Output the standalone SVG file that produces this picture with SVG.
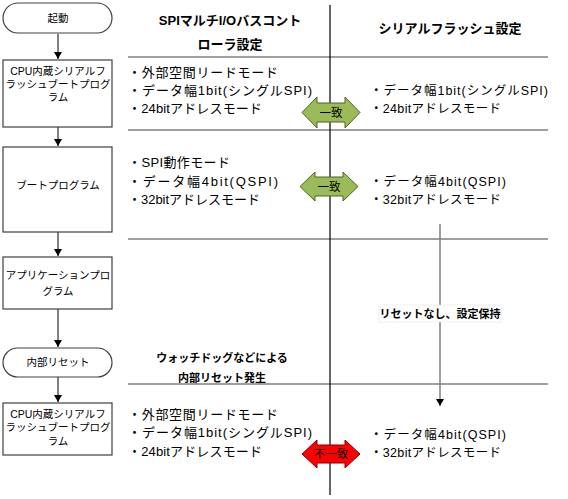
<svg xmlns="http://www.w3.org/2000/svg" width="568" height="499" viewBox="0 0 568 499">
<defs>
<style>
.box{fill:#fff;stroke:#404040;stroke-width:1.2}
.bt{font-family:"Liberation Sans","Noto Sans CJK JP",sans-serif;font-size:10.5px;fill:#000;text-anchor:middle}
.it{font-family:"Liberation Sans","Noto Sans CJK JP",sans-serif;font-size:13px;fill:#000}
.ir{font-family:"Liberation Sans","Noto Sans CJK JP",sans-serif;font-size:12.5px;fill:#000}
.hd{font-family:"Liberation Sans","Noto Sans CJK JP",sans-serif;font-size:13px;font-weight:bold;fill:#000;text-anchor:middle}
.lb{font-family:"Liberation Sans","Noto Sans CJK JP",sans-serif;font-size:11px;font-weight:bold;fill:#000;text-anchor:middle}
.sep{stroke:#808080;stroke-width:1.5}
.flow{stroke:#000;stroke-width:1;fill:none}
.green{fill:#9BBB59;stroke:#4F6228;stroke-width:1}
.red{fill:#FF0000;stroke:#7F0000;stroke-width:1}
.at{font-family:"Liberation Sans","Noto Sans CJK JP",sans-serif;font-size:11.5px;fill:#000;text-anchor:middle}
</style>
<marker id="ah" markerWidth="8" markerHeight="8" refX="7" refY="4" orient="auto" markerUnits="userSpaceOnUse">
<path d="M0,0 L7,4 L0,8 z" fill="#000"/>
</marker>
</defs>
<rect width="568" height="499" fill="#fff"/>

<g id="separators">
<line class="sep" x1="128" y1="57" x2="548" y2="57"/>
<line class="sep" x1="128" y1="130" x2="548" y2="130"/>
<line class="sep" x1="128" y1="239" x2="548" y2="239"/>
<line class="sep" x1="128" y1="384" x2="548" y2="384" stroke-width="2"/>
<line x1="330" y1="5" x2="330" y2="495" stroke="#000" stroke-width="1.2"/>
</g>

<g id="connectors">
<line class="flow" x1="58" y1="34" x2="58" y2="59" marker-end="url(#ah)"/>
<line class="flow" x1="58" y1="127" x2="58" y2="146" marker-end="url(#ah)"/>
<line class="flow" x1="58" y1="232" x2="58" y2="256" marker-end="url(#ah)"/>
<line class="flow" x1="58" y1="309" x2="58" y2="347" marker-end="url(#ah)"/>
<line class="flow" x1="58" y1="377" x2="58" y2="402" marker-end="url(#ah)"/>
<line x1="440" y1="224" x2="440" y2="406" stroke="#808080" stroke-width="1.5" marker-end="url(#ah)"/>
</g>

<g id="n-start">
<rect class="box" x="3" y="3" width="109" height="30" rx="15" ry="15"/>
<text class="bt" x="58" y="22">起動</text>
</g>
<g id="n-boot1">
<rect class="box" x="3" y="60" width="109" height="67"/>
<text class="bt" x="58" y="75">CPU内蔵シリアルフ</text>
<text class="bt" x="58" y="88">ラッシュブートプログ</text>
<text class="bt" x="58" y="101">ラム</text>
</g>
<g id="n-boot2">
<rect class="box" x="3" y="147" width="109" height="85"/>
<text class="bt" x="58" y="189">ブートプログラム</text>
</g>
<g id="n-app">
<rect class="box" x="3" y="257" width="109" height="52"/>
<text class="bt" x="58" y="279">アプリケーションプロ</text>
<text class="bt" x="58" y="295">グラム</text>
</g>
<g id="n-reset">
<rect class="box" x="3" y="348" width="109" height="29" rx="14.5" ry="14.5"/>
<text class="bt" x="58" y="366">内部リセット</text>
</g>
<g id="n-boot3">
<rect class="box" x="3" y="403" width="109" height="52"/>
<text class="bt" x="58" y="418">CPU内蔵シリアルフ</text>
<text class="bt" x="58" y="431">ラッシュブートプログ</text>
<text class="bt" x="58" y="445">ラム</text>
</g>

<g id="headers">
<text class="hd" x="230" y="25">SPIマルチI/Oバスコント</text>
<text class="hd" x="230" y="49">ローラ設定</text>
<text class="hd" x="450" y="33">シリアルフラッシュ設定</text>
</g>

<g id="left-items">
<text class="it" x="128" y="77" textLength="150" lengthAdjust="spacing">・外部空間リードモード</text>
<text class="it" x="128" y="95" textLength="184" lengthAdjust="spacing">・データ幅1bit(シングルSPI)</text>
<text class="it" x="128" y="113" textLength="134" lengthAdjust="spacing">・24bitアドレスモード</text>
<text class="it" x="128" y="167" textLength="102" lengthAdjust="spacing">・SPI動作モード</text>
<text class="it" x="128" y="186" textLength="150" lengthAdjust="spacing">・データ幅4bit(QSPI)</text>
<text class="it" x="128" y="204" textLength="132" lengthAdjust="spacing">・32bitアドレスモード</text>
<text class="it" x="128" y="419" textLength="150" lengthAdjust="spacing">・外部空間リードモード</text>
<text class="it" x="128" y="437" textLength="184" lengthAdjust="spacing">・データ幅1bit(シングルSPI)</text>
<text class="it" x="128" y="456" textLength="134" lengthAdjust="spacing">・24bitアドレスモード</text>
</g>

<g id="right-items">
<text class="ir" x="370" y="95" textLength="178" lengthAdjust="spacing">・データ幅1bit(シングルSPI)</text>
<text class="ir" x="370" y="113" textLength="131" lengthAdjust="spacing">・24bitアドレスモード</text>
<text class="ir" x="370" y="186" textLength="136" lengthAdjust="spacing">・データ幅4bit(QSPI)</text>
<text class="ir" x="370" y="204" textLength="131" lengthAdjust="spacing">・32bitアドレスモード</text>
<text class="ir" x="370" y="439" textLength="136" lengthAdjust="spacing">・データ幅4bit(QSPI)</text>
<text class="ir" x="370" y="457" textLength="131" lengthAdjust="spacing">・32bitアドレスモード</text>
</g>

<g id="reset-label">
<text class="lb" x="222" y="362">ウォッチドッグなどによる</text>
<text class="lb" x="222" y="382">内部リセット発生</text>
<rect x="379" y="305" width="122" height="17" fill="#fff" stroke="#e0e0e0" stroke-width="0.5"/>
<text class="lb" x="440" y="318">リセットなし、設定保持</text>
</g>

<g id="match1">
<path class="green" d="M302,112.5 L317,97 L317,103 L345,103 L345,97 L360,112.5 L345,128 L345,122 L317,122 L317,128 Z"/>
<text class="at" x="331" y="117">一致</text>
</g>
<g id="match2">
<path class="green" d="M300,186.5 L315,172 L315,177 L343,177 L343,172 L358,186.5 L343,201 L343,196 L315,196 L315,201 Z"/>
<text class="at" x="329" y="191">一致</text>
</g>
<g id="mismatch">
<path class="red" d="M302,454 L317,440 L317,445 L345,445 L345,440 L360,454 L345,468 L345,463 L317,463 L317,468 Z"/>
<text class="at" x="331" y="458">不一致</text>
</g>
</svg>
